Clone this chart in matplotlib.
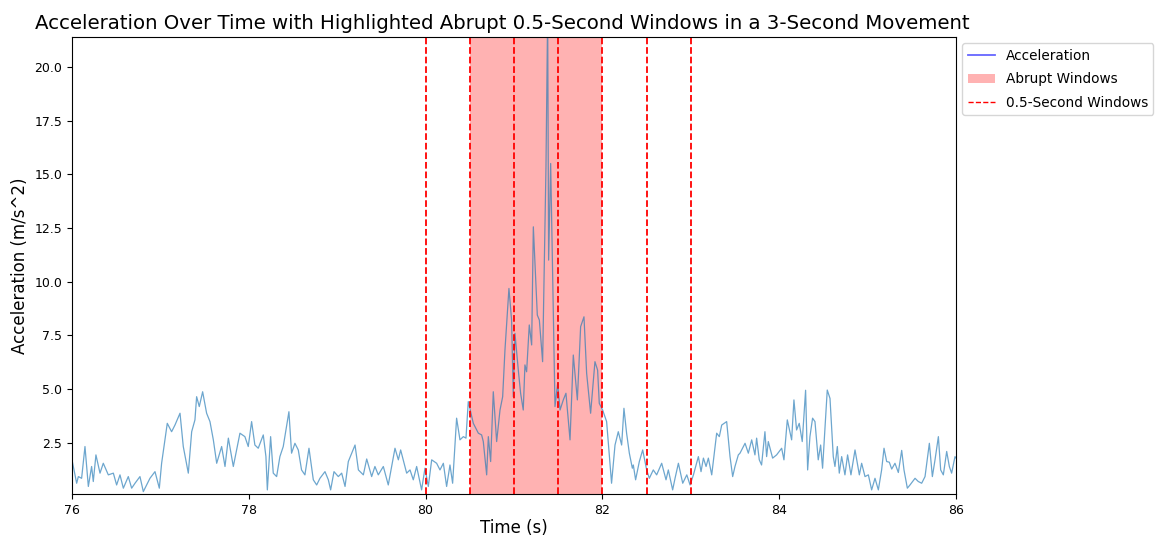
import matplotlib
matplotlib.use("Agg")
import matplotlib.pyplot as plt
from matplotlib.lines import Line2D
from matplotlib.patches import Patch

# Sampled acceleration trace (time in s, acceleration in m/s^2)
time_s = [
    76.000, 76.053, 76.072, 76.109, 76.147, 76.185, 76.222, 76.241, 76.271, 76.317,
    76.354, 76.411, 76.468, 76.505, 76.543, 76.581, 76.637, 76.675, 76.713, 76.769,
    76.807, 76.882, 76.939, 76.988, 77.014, 77.078, 77.127, 77.165, 77.222, 77.259,
    77.316, 77.354, 77.391, 77.410, 77.440, 77.478, 77.523, 77.561, 77.599, 77.637,
    77.693, 77.731, 77.769, 77.825, 77.900, 77.956, 77.994, 78.032, 78.069, 78.107,
    78.164, 78.194, 78.210, 78.247, 78.277, 78.315, 78.352, 78.390, 78.454, 78.484,
    78.522, 78.560, 78.597, 78.635, 78.681, 78.730, 78.768, 78.805, 78.862, 78.900,
    78.926, 78.964, 79.013, 79.051, 79.089, 79.126, 79.202, 79.240, 79.296, 79.334,
    79.390, 79.427, 79.465, 79.522, 79.578, 79.654, 79.692, 79.718, 79.786, 79.824,
    79.861, 79.899, 79.955, 79.993, 80.031, 80.069, 80.125, 80.163, 80.201, 80.238,
    80.276, 80.306, 80.351, 80.389, 80.427, 80.457, 80.483, 80.540, 80.597, 80.634,
    80.653, 80.691, 80.710, 80.736, 80.766, 80.804, 80.842, 80.872, 80.898, 80.943,
    80.973, 80.992, 81.011, 81.049, 81.075, 81.105, 81.124, 81.143, 81.173, 81.200,
    81.219, 81.264, 81.287, 81.324, 81.362, 81.381, 81.392, 81.415, 81.464, 81.494,
    81.521, 81.558, 81.588, 81.634, 81.671, 81.717, 81.754, 81.792, 81.822, 81.867,
    81.916, 81.946, 81.965, 82.003, 82.048, 82.104, 82.143, 82.180, 82.218, 82.244,
    82.274, 82.305, 82.339, 82.350, 82.376, 82.418, 82.456, 82.501, 82.531, 82.576,
    82.614, 82.671, 82.720, 82.746, 82.795, 82.822, 82.860, 82.909, 82.955, 82.992,
    83.030, 83.086, 83.116, 83.143, 83.173, 83.199, 83.237, 83.293, 83.323, 83.350,
    83.406, 83.444, 83.474, 83.500, 83.538, 83.557, 83.614, 83.651, 83.689, 83.726,
    83.745, 83.775, 83.801, 83.839, 83.858, 83.877, 83.926, 83.971, 84.028, 84.054,
    84.092, 84.141, 84.167, 84.197, 84.227, 84.261, 84.299, 84.322, 84.348, 84.378,
    84.405, 84.442, 84.469, 84.491, 84.544, 84.575, 84.612, 84.631, 84.658, 84.680,
    84.707, 84.744, 84.774, 84.812, 84.858, 84.907, 84.933, 84.971, 85.009, 85.046,
    85.084, 85.122, 85.159, 85.186, 85.216, 85.246, 85.273, 85.310, 85.348, 85.386,
    85.412, 85.450, 85.480, 85.537, 85.574, 85.612, 85.650, 85.699, 85.733, 85.763,
    85.801, 85.827, 85.857, 85.895, 85.925, 85.951, 85.989, 86.000,
]
accel = [
    1.71, 0.62, 0.93, 0.85, 2.33, 0.47, 1.40, 0.70, 1.94, 1.09,
    1.55, 1.01, 1.09, 0.54, 1.01, 0.39, 0.93, 0.39, 0.62, 0.93,
    0.23, 0.85, 1.16, 0.39, 1.55, 3.41, 3.02, 3.33, 3.88, 2.33,
    1.09, 3.02, 3.57, 4.65, 4.19, 4.88, 3.88, 3.49, 2.64, 1.55,
    2.33, 1.40, 2.72, 1.40, 2.95, 2.79, 2.33, 3.49, 2.40, 2.25,
    2.87, 1.86, 0.31, 2.79, 1.09, 0.93, 1.86, 2.33, 3.95, 2.02,
    2.48, 2.17, 1.24, 1.01, 2.25, 0.78, 0.54, 0.85, 1.16, 0.78,
    0.31, 1.16, 0.93, 1.09, 0.47, 1.63, 2.40, 1.24, 1.01, 1.75,
    0.93, 1.40, 1.01, 1.40, 0.54, 2.25, 1.71, 2.17, 1.09, 1.24,
    0.78, 1.40, 0.31, 1.32, 0.47, 1.71, 1.55, 1.24, 1.55, 0.47,
    1.47, 0.62, 3.65, 2.64, 2.79, 2.72, 4.42, 3.41, 2.95, 2.87,
    2.56, 1.01, 2.79, 1.63, 4.88, 2.56, 4.03, 4.65, 6.82, 9.69,
    8.22, 4.65, 7.60, 5.89, 4.81, 4.03, 6.13, 5.81, 7.99, 7.06,
    12.56, 8.45, 8.22, 6.28, 15.35, 22.50, 11.01, 15.51, 4.19, 5.27,
    4.03, 4.50, 4.81, 2.64, 6.59, 4.50, 7.91, 8.37, 5.74, 3.88,
    6.28, 5.89, 4.34, 4.03, 3.49, 0.62, 2.40, 3.02, 2.40, 4.11,
    2.95, 2.02, 1.32, 1.47, 0.78, 1.63, 2.17, 1.24, 0.85, 1.24,
    1.01, 1.55, 0.78, 1.24, 0.31, 0.85, 1.55, 0.62, 1.01, 0.54,
    1.01, 1.86, 1.16, 1.79, 1.40, 1.79, 1.01, 2.95, 2.79, 3.33,
    3.49, 1.86, 0.93, 1.40, 1.94, 2.02, 2.48, 2.02, 2.64, 1.94,
    2.72, 1.71, 1.47, 3.02, 1.86, 2.56, 1.79, 1.94, 2.25, 1.71,
    3.57, 2.64, 4.50, 3.10, 3.41, 2.56, 4.95, 1.24, 2.79, 3.65,
    3.49, 1.71, 2.40, 1.32, 4.96, 4.57, 1.86, 1.40, 2.33, 1.09,
    1.86, 1.01, 1.94, 1.01, 2.17, 1.01, 1.55, 0.93, 1.01, 0.31,
    0.85, 0.31, 1.24, 2.25, 1.63, 1.60, 1.28, 1.55, 1.12, 2.15,
    1.24, 0.39, 0.54, 0.85, 0.70, 0.62, 0.93, 2.48, 0.93, 1.71,
    2.79, 1.24, 1.01, 2.10, 1.40, 1.09, 1.86, 1.80,
]

# Half-second window boundaries and the windows flagged as abrupt
window_edges = [80.0, 80.5, 81.0, 81.5, 82.0, 82.5, 83.0]
abrupt_windows = [(80.5, 81.0), (81.0, 81.5), (81.5, 82.0)]

fig = plt.figure(figsize=(11.61, 5.36), dpi=100)
ax = fig.add_axes([0.062, 0.0784, 0.7614, 0.8526])

ax.plot(time_s, accel, color="#1f77b4", alpha=0.65, linewidth=0.9)

for start, end in abrupt_windows:
    ax.axvspan(start, end, color="red", alpha=0.3, linewidth=0)

for edge in window_edges:
    ax.axvline(edge, color="red", linestyle="--", linewidth=1.3)

ax.set_xlim(76, 86)
ax.set_ylim(0.12, 21.4)
ax.set_xticks([76, 78, 80, 82, 84, 86])
ax.set_yticks([2.5, 5.0, 7.5, 10.0, 12.5, 15.0, 17.5, 20.0])
ax.tick_params(labelsize=9)

ax.set_title("Acceleration Over Time with Highlighted Abrupt 0.5-Second Windows in a 3-Second Movement",
             fontsize=14.2, x=0.487)
ax.set_xlabel("Time (s)", fontsize=12, labelpad=2)
ax.set_ylabel("Acceleration (m/s^2)", fontsize=12)

handles = [
    Line2D([0], [0], color="blue", alpha=0.6, linewidth=1.3),
    Patch(facecolor="red", alpha=0.3, edgecolor="none"),
    Line2D([0], [0], color="red", linestyle="--", linewidth=1.0),
]
labels = ["Acceleration", "Abrupt Windows", "0.5-Second Windows"]
ax.legend(handles, labels, loc="upper left", bbox_to_anchor=(1.0, 1.0),
          fontsize=9.8, frameon=True, borderaxespad=0.45, labelspacing=0.7)

fig.savefig("out.png", dpi=100)
